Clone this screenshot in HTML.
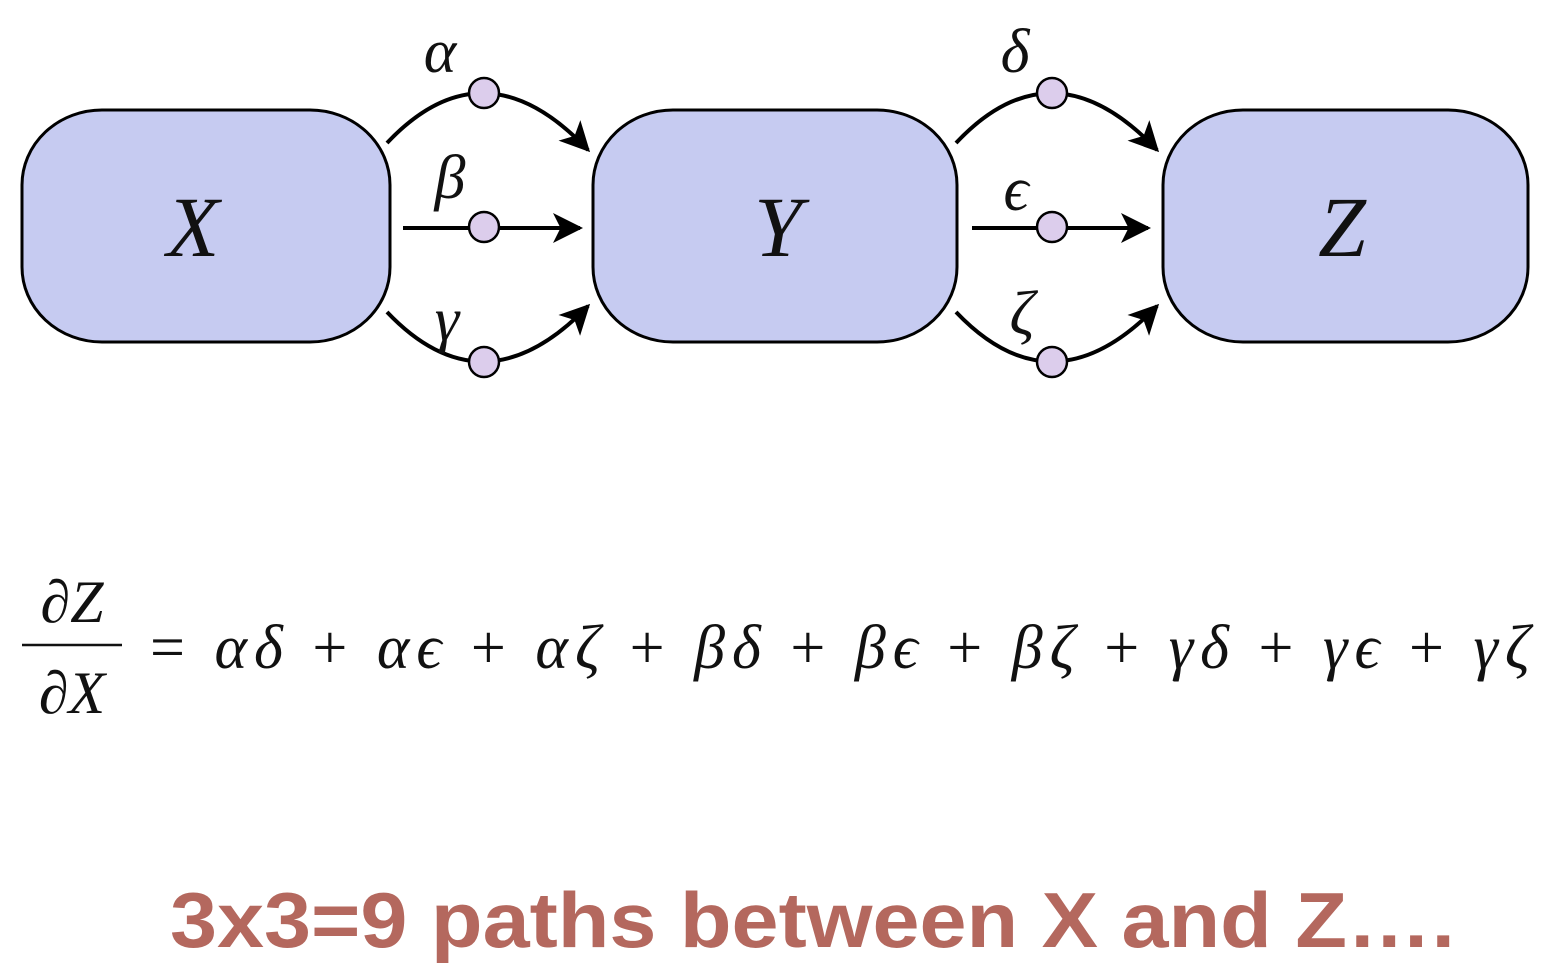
<!DOCTYPE html>
<html><head><meta charset="utf-8"><style>
html,body{margin:0;padding:0;background:#fff;width:1558px;height:974px;overflow:hidden}
svg{display:block}
.g{font-family:"Liberation Serif","DejaVu Serif",serif;font-style:italic;fill:#111}
</style></head><body>
<svg width="1558" height="974" viewBox="0 0 1558 974">
<defs>
<marker id="ah" viewBox="0 0 10 10" refX="9" refY="5" markerWidth="7.5" markerHeight="7.5" orient="auto-start-reverse" markerUnits="strokeWidth">
<path d="M0,0 L10,5 L0,10 L2.5,5 z" fill="#000"/></marker>
</defs>
<g>
<rect x="22" y="110" width="368" height="232" rx="80" ry="75" fill="#c6cbf1" stroke="#000" stroke-width="3"/>
<text class="g" x="193" y="256" font-size="86" text-anchor="middle">X</text></g>
<g>
<rect x="593" y="110" width="364" height="232" rx="80" ry="75" fill="#c6cbf1" stroke="#000" stroke-width="3"/>
<text class="g" x="778" y="256" font-size="86" text-anchor="middle">Y</text></g>
<g>
<rect x="1163" y="110" width="365" height="232" rx="80" ry="75" fill="#c6cbf1" stroke="#000" stroke-width="3"/>
<text class="g" x="1342" y="256" font-size="86" text-anchor="middle">Z</text></g>

<g fill="none" stroke="#000" stroke-width="4">
<path d="M387,143 Q484,40 588,150" marker-end="url(#ah)"/>
<path d="M403,228 L580,228" marker-end="url(#ah)"/>
<path d="M387,312 Q484,414 588,306" marker-end="url(#ah)"/>
</g>
<g fill="none" stroke="#000" stroke-width="4">
<path d="M956,143 Q1053,40 1157,150" marker-end="url(#ah)"/>
<path d="M972,228 L1148,228" marker-end="url(#ah)"/>
<path d="M956,312 Q1053,414 1157,306" marker-end="url(#ah)"/>
</g>
<g fill="#dccdec" stroke="#000" stroke-width="2.5">
<circle cx="484" cy="93" r="15"/><circle cx="484" cy="227" r="15"/><circle cx="484" cy="362" r="15"/>
<circle cx="1052" cy="93" r="15"/><circle cx="1052" cy="227" r="15"/><circle cx="1052" cy="362" r="15"/>
</g>
<g font-size="62">
<text class="g" x="440" y="72" text-anchor="middle">α</text>
<text class="g" x="450" y="198" text-anchor="middle">β</text>
<text class="g" x="447" y="340" text-anchor="middle">γ</text>
<text class="g" x="1015" y="72" text-anchor="middle">δ</text>
<text class="g" x="1016" y="210" text-anchor="middle">ϵ</text>
<text class="g" x="1022" y="334" text-anchor="middle">ζ</text>
</g>

<g>
<text class="g" x="72" y="622" font-size="60" text-anchor="middle">∂Z</text>
<line x1="22" y1="645" x2="122" y2="645" stroke="#111" stroke-width="2.5"/>
<text class="g" x="72" y="713" font-size="60" text-anchor="middle">∂X</text>
<text class="g" x="150" y="668" font-size="62" textLength="1380" lengthAdjust="spacing"><tspan font-style="normal">=</tspan> αδ <tspan font-style="normal">+</tspan> αϵ <tspan font-style="normal">+</tspan> αζ <tspan font-style="normal">+</tspan> βδ <tspan font-style="normal">+</tspan> βϵ <tspan font-style="normal">+</tspan> βζ <tspan font-style="normal">+</tspan> γδ <tspan font-style="normal">+</tspan> γϵ <tspan font-style="normal">+</tspan> γζ</text>
</g>

<text x="170" y="947" font-family="'Liberation Sans',Arial,sans-serif" font-weight="bold" font-size="78" fill="#b4685e" textLength="1285" lengthAdjust="spacingAndGlyphs">3x3=9 paths between X and Z….</text>
</svg>
</body></html>
